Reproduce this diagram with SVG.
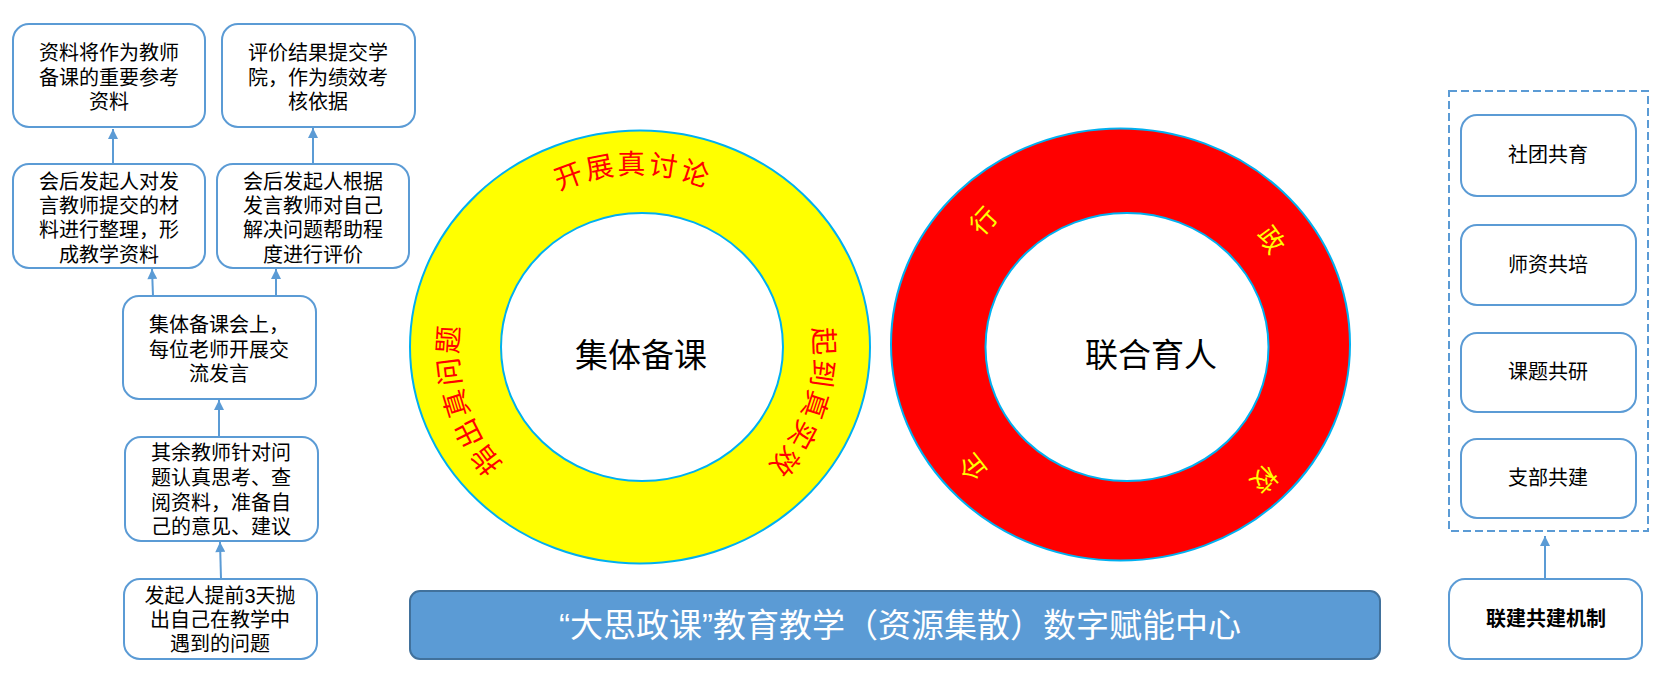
<svg xmlns="http://www.w3.org/2000/svg" width="1667" height="681" viewBox="0 0 1667 681">
<style>
text{font-family:"Liberation Sans","Noto Sans CJK SC",sans-serif;}
.box{fill:#fff;stroke:#5B9BD5;stroke-width:2;}
.t{font-size:20px;fill:#000;text-anchor:middle;}
.conn{stroke:#5B9BD5;stroke-width:2;fill:none;marker-end:url(#arr);}
.ring{stroke:#00B0F0;stroke-width:2;}
.rt{font-size:28px;fill:#FF0000;letter-spacing:2.5px;}
.yt{font-size:26px;fill:#FFFF00;text-anchor:middle;dominant-baseline:central;}
.big{font-size:33px;fill:#000;text-anchor:middle;}
</style>
<defs>
<marker id="arr" viewBox="0 0 10 10" refX="10" refY="5" markerWidth="11" markerHeight="10" markerUnits="userSpaceOnUse" orient="auto">
<path d="M0,0 L10,5 L0,10 z" fill="#5B9BD5"/>
</marker>
<path id="ringPath" d="M636,524 A178,175 0 0 1 636,174 A178,175 0 0 1 636,524"/>
</defs>
<rect width="1667" height="681" fill="#fff"/>

<g id="connectors">
<line class="conn" x1="113" y1="164" x2="113" y2="129"/>
<line class="conn" x1="313" y1="164" x2="313" y2="128"/>
<line class="conn" x1="153" y1="296" x2="152" y2="269"/>
<line class="conn" x1="276" y1="296" x2="276" y2="269"/>
<line class="conn" x1="219" y1="437" x2="219" y2="400"/>
<line class="conn" x1="221" y1="579" x2="220" y2="542"/>
<line class="conn" x1="1545" y1="579" x2="1545" y2="536"/>
</g>

<g id="nodeA">
<rect class="box" x="13" y="24" width="192" height="103" rx="16"/>
<text class="t"><tspan x="109" y="60">资料将作为教师</tspan><tspan x="109" y="85">备课的重要参考</tspan><tspan x="109" y="109">资料</tspan></text>
</g>
<g id="nodeB">
<rect class="box" x="222" y="24" width="193" height="103" rx="16"/>
<text class="t"><tspan x="318" y="60">评价结果提交学</tspan><tspan x="318" y="85">院，作为绩效考</tspan><tspan x="318" y="109">核依据</tspan></text>
</g>
<g id="nodeC">
<rect class="box" x="13" y="164" width="192" height="104" rx="16"/>
<text class="t"><tspan x="109" y="189">会后发起人对发</tspan><tspan x="109" y="213">言教师提交的材</tspan><tspan x="109" y="237">料进行整理，形</tspan><tspan x="109" y="262">成教学资料</tspan></text>
</g>
<g id="nodeD">
<rect class="box" x="217" y="164" width="192" height="104" rx="16"/>
<text class="t"><tspan x="313" y="189">会后发起人根据</tspan><tspan x="313" y="213">发言教师对自己</tspan><tspan x="313" y="237">解决问题帮助程</tspan><tspan x="313" y="262">度进行评价</tspan></text>
</g>
<g id="nodeE">
<rect class="box" x="123" y="296" width="193" height="103" rx="16"/>
<text class="t"><tspan x="219" y="332">集体备课会上，</tspan><tspan x="219" y="357">每位老师开展交</tspan><tspan x="219" y="381">流发言</tspan></text>
</g>
<g id="nodeF">
<rect class="box" x="125" y="437" width="193" height="104" rx="16"/>
<text class="t"><tspan x="221" y="460">其余教师针对问</tspan><tspan x="221" y="485">题认真思考、查</tspan><tspan x="221" y="510">阅资料，准备自</tspan><tspan x="221" y="534">己的意见、建议</tspan></text>
</g>
<g id="nodeG">
<rect class="box" x="124" y="579" width="193" height="80" rx="16"/>
<text class="t"><tspan x="220" y="603">发起人提前3天抛</tspan><tspan x="220" y="627">出自己在教学中</tspan><tspan x="220" y="651">遇到的问题</tspan></text>
</g>

<g id="ringYellow">
<ellipse class="ring" cx="640" cy="347" rx="230" ry="216.5" fill="#FFFF00"/>
<ellipse class="ring" cx="642" cy="347" rx="141" ry="134" fill="#fff"/>
<text class="rt"><textPath href="#ringPath" startOffset="226" text-anchor="middle">指出真问题</textPath></text>
<text class="rt"><textPath href="#ringPath" startOffset="551" text-anchor="middle">开展真讨论</textPath></text>
<text class="rt"><textPath href="#ringPath" startOffset="886" text-anchor="middle">起到真实效</textPath></text>
<text class="big" x="641" y="367">集体备课</text>
</g>

<g id="ringRed">
<ellipse class="ring" cx="1120.5" cy="344.5" rx="229.5" ry="216" fill="#FF0000"/>
<ellipse class="ring" cx="1127" cy="347" rx="141.5" ry="134" fill="#fff"/>
<text class="yt" transform="translate(984,221) rotate(-48)">行</text>
<text class="yt" transform="translate(1271,240) rotate(54)">政</text>
<text class="yt" transform="translate(973,467) rotate(-128)">企</text>
<text class="yt" transform="translate(1264,479) rotate(135)">校</text>
<text class="big" x="1151" y="367">联合育人</text>
</g>

<g id="banner">
<rect x="410" y="591" width="970" height="68" rx="10" fill="#5B9BD5" stroke="#41719C" stroke-width="2"/>
<text x="900" y="637" font-size="33" fill="#fff" text-anchor="middle">“大思政课”教育教学（资源集散）数字赋能中心</text>
</g>

<g id="groupRight">
<rect x="1449" y="91" width="199" height="440" fill="none" stroke="#5B9BD5" stroke-width="2" stroke-dasharray="8 4"/>
</g>
<g id="nodeR1">
<rect class="box" x="1461" y="115" width="175" height="81" rx="16"/>
<text class="t" x="1548" y="162">社团共育</text>
</g>
<g id="nodeR2">
<rect class="box" x="1461" y="225" width="175" height="80" rx="16"/>
<text class="t" x="1548" y="272">师资共培</text>
</g>
<g id="nodeR3">
<rect class="box" x="1461" y="333" width="175" height="79" rx="16"/>
<text class="t" x="1548" y="379">课题共研</text>
</g>
<g id="nodeR4">
<rect class="box" x="1461" y="439" width="175" height="79" rx="16"/>
<text class="t" x="1548" y="485">支部共建</text>
</g>
<g id="nodeR5">
<rect class="box" x="1449" y="579" width="193" height="80" rx="16"/>
<text class="t" x="1546" y="626" font-weight="bold">联建共建机制</text>
</g>
</svg>
